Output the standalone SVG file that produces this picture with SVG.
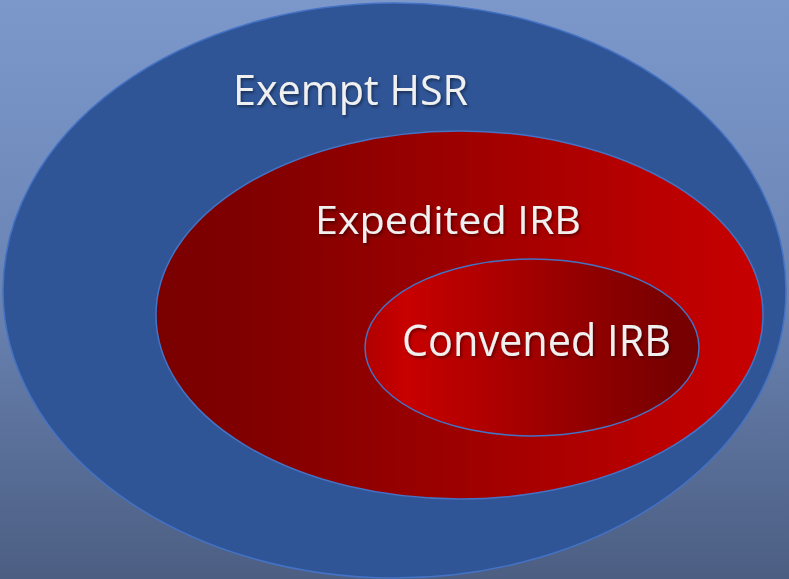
<svg xmlns="http://www.w3.org/2000/svg" width="789" height="579" viewBox="0 0 789 579">
  <defs>
    <linearGradient id="bg" x1="0" y1="0" x2="0" y2="1">
      <stop offset="0" stop-color="#7C98CB"/>
      <stop offset="0.5" stop-color="#6A84B4"/>
      <stop offset="1" stop-color="#4C5E82"/>
    </linearGradient>
    <linearGradient id="redOuter" gradientUnits="userSpaceOnUse" x1="156" y1="0" x2="763" y2="0">
      <stop offset="0" stop-color="#7A0000"/>
      <stop offset="0.15" stop-color="#800000"/>
      <stop offset="1" stop-color="#C80000"/>
    </linearGradient>
    <linearGradient id="redInner" gradientUnits="userSpaceOnUse" x1="365" y1="0" x2="699" y2="0">
      <stop offset="0" stop-color="#B00000"/>
      <stop offset="0.12" stop-color="#C80000"/>
      <stop offset="0.9" stop-color="#7A0000"/>
      <stop offset="1" stop-color="#760000"/>
    </linearGradient>
    <filter id="shadow" x="-10%" y="-30%" width="120%" height="160%">
      <feDropShadow dx="1.5" dy="2" stdDeviation="1.5" flood-color="#000" flood-opacity="0.45"/>
    </filter>
  </defs>
  <style>
    .lbl { font-family: "Open Sans", "Liberation Sans", sans-serif; fill: #F0F0F0; filter: url(#shadow); }
    .ring { stroke: #4472C4; stroke-width: 1.5; }
  </style>
  <rect x="0" y="0" width="789" height="579" fill="url(#bg)"/>
  <g id="exempt-hsr">
    <ellipse class="ring" cx="394.5" cy="290.5" rx="391.5" ry="287.5" fill="#2F5597"/>
    <text class="lbl" x="233" y="105" font-size="42" textLength="235" lengthAdjust="spacingAndGlyphs">Exempt HSR</text>
  </g>
  <g id="expedited-irb">
    <ellipse class="ring" cx="459.5" cy="315" rx="303.5" ry="184" fill="url(#redOuter)"/>
    <text class="lbl" x="315" y="234" font-size="38" textLength="266" lengthAdjust="spacingAndGlyphs">Expedited IRB</text>
  </g>
  <g id="convened-irb">
    <ellipse class="ring" cx="532" cy="347.5" rx="167" ry="88.5" fill="url(#redInner)"/>
    <text class="lbl" x="402" y="356" font-size="44" textLength="269" lengthAdjust="spacingAndGlyphs">Convened IRB</text>
  </g>
  <g id="connectors"/>
</svg>
